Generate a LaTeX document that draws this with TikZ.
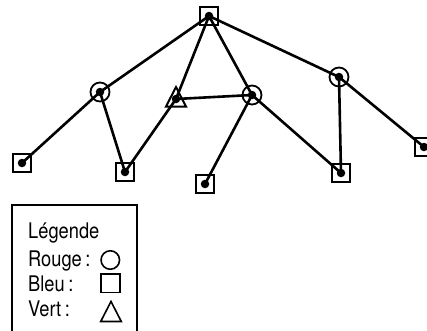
\documentclass[tikz,border=0pt]{standalone}
\usepackage{fontspec}
\setmainfont[FakeStretch=0.85]{TeX Gyre Heros}
\usetikzlibrary{shapes.geometric}
\begin{document}
\begin{tikzpicture}[x=1pt,y=-1pt,
  edge/.style={line width=2.6pt},
  sq/.style={draw,line width=2pt,rectangle,minimum size=18pt,inner sep=0pt},
  ci/.style={draw,line width=1.8pt,circle,minimum size=19pt,inner sep=0pt},
  tri/.style={draw,line width=2pt,line join=miter},
  dot/.style={fill=black,circle,minimum size=8.5pt,inner sep=0pt},
  lsym/.style={draw,line width=1.6pt,inner sep=0pt},
  ltext/.style={anchor=base west,font=\fontsize{21.5}{24}\selectfont,inner sep=0pt}]
\useasboundingbox (0,0) rectangle (427,330);
% vertices
\coordinate (T) at (209,16);
\coordinate (L1) at (100,92);
\coordinate (A) at (176,99);
\coordinate (M) at (252,95);
\coordinate (R) at (339,77);
\coordinate (LL) at (22,163);
\coordinate (LM) at (125,172);
\coordinate (B) at (205,184);
\coordinate (MR) at (341,173);
\coordinate (RR) at (424,147);
% edges
\draw[edge] (T) -- (L1);
\draw[edge] (T) -- (A);
\draw[edge] (T) -- (M);
\draw[edge] (T) -- (R);
\draw[edge] (L1) -- (LL);
\draw[edge] (L1) -- (LM);
\draw[edge] (A) -- (LM);
\draw[edge] (A) -- (M);
\draw[edge] (M) -- (B);
\draw[edge] (M) -- (MR);
\draw[edge] (R) -- (MR);
\draw[edge] (R) -- (RR);
% shapes
\foreach \n in {T,LL,LM,B,MR,RR} \node[sq] (s\n) at (\n) {};
\foreach \n in {L1,M,R} \node[ci] (c\n) at (\n) {};
\draw[tri] ([shift={(-10,7.5)}]A) -- ([shift={(10,7.5)}]A) -- ([shift={(0,-12)}]A) -- cycle;
\foreach \n in {T,L1,A,M,R,LL,LM,B,MR,RR} \node[dot] (d\n) at (\n) {};
% legend
\draw[line width=1.5pt] (12,335) -- (12,205) -- (137,205) -- (137,335);
\node[ltext] (lg) at (28,238) {Légende};
\node[ltext] (lr) at (28,266.7) {Rouge\,:};
\node[ltext] (lb) at (28,291.5) {Bleu\,:};
\node[ltext] (lv) at (28,316) {Vert\,:};
\node[lsym,circle,minimum size=18.5pt] (kr) at (110.3,260) {};
\node[lsym,rectangle,minimum size=18.5pt] (kb) at (110.5,283.3) {};
\coordinate (kv) at (111,311.5);
\draw[lsym,line join=miter] ([shift={(-10.3,10)}]kv) -- ([shift={(10.3,10)}]kv) -- ([shift={(0,-10)}]kv) -- cycle;
\end{tikzpicture}
\end{document}
